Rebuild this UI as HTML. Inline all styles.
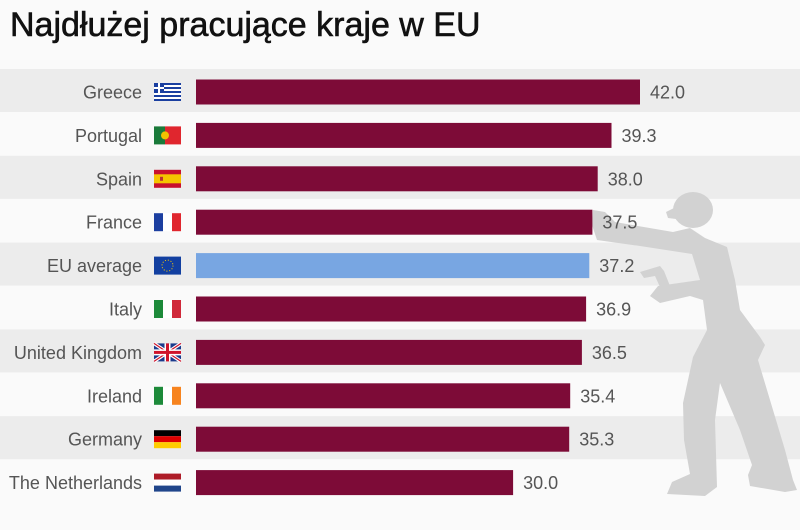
<!DOCTYPE html>
<html><head><meta charset="utf-8"><style>
body{margin:0;width:800px;height:530px;background:#fafafa;overflow:hidden;font-family:"Liberation Sans",sans-serif;position:relative}
.t{position:absolute;left:10px;top:6px;font-size:34px;color:#111;white-space:nowrap;-webkit-text-stroke:0.6px #111}
svg text{font-family:"Liberation Sans",sans-serif;font-size:18px;fill:#555}
</style></head><body>
<svg width="800" height="530" style="position:absolute;left:0;top:0" xmlns="http://www.w3.org/2000/svg" xmlns:xlink="http://www.w3.org/1999/xlink">
<defs>
<g id="gr"><rect width="27" height="18" fill="#1a3fa0"/><rect y="2" width="27" height="2" fill="#fff"/><rect y="6" width="27" height="2" fill="#fff"/><rect y="10" width="27" height="2" fill="#fff"/><rect y="14" width="27" height="2" fill="#fff"/><rect width="10" height="10" fill="#1a3fa0"/><rect x="4" width="2" height="10" fill="#fff"/><rect y="4" width="10" height="2" fill="#fff"/></g>
<g id="pt"><rect width="11" height="18" fill="#1a7a3a"/><rect x="11" width="16" height="18" fill="#e0262e"/><circle cx="11" cy="9" r="4" fill="#f2c200"/></g>
<g id="es"><rect width="27" height="18" fill="#c8102e"/><rect y="4.5" width="27" height="9" fill="#f5c400"/><rect x="6" y="7" width="3" height="4" fill="#b33"/></g>
<g id="fr"><rect width="9" height="18" fill="#1c3fa0"/><rect x="9" width="9" height="18" fill="#fff"/><rect x="18" width="9" height="18" fill="#e0262e"/></g>
<g id="it"><rect width="9" height="18" fill="#1d8a3a"/><rect x="9" width="9" height="18" fill="#fff"/><rect x="18" width="9" height="18" fill="#d0293a"/></g>
<g id="ie"><rect width="9" height="18" fill="#1d8a3a"/><rect x="9" width="9" height="18" fill="#fff"/><rect x="18" width="9" height="18" fill="#f7841f"/></g>
<g id="de"><rect width="27" height="6" fill="#000"/><rect y="6" width="27" height="6" fill="#dd0000"/><rect y="12" width="27" height="6" fill="#ffcc00"/></g>
<g id="nl"><rect width="27" height="6" fill="#ae1c28"/><rect y="6" width="27" height="6" fill="#fff"/><rect y="12" width="27" height="6" fill="#21468b"/></g>
<g id="eu"><rect width="27" height="18" fill="#123fa0"/><circle cx="13.5" cy="9" r="5.5" fill="none" stroke="#ffcc00" stroke-width="1" stroke-dasharray="1 1.9"/></g>
<g id="uk"><rect width="27" height="18" fill="#1a3a8c"/><path d="M0,0 L27,18 M27,0 L0,18" stroke="#fff" stroke-width="3.5"/><path d="M0,0 L27,18 M27,0 L0,18" stroke="#cf142b" stroke-width="1.2"/><rect x="10.5" width="6" height="18" fill="#fff"/><rect y="6" width="27" height="6" fill="#fff"/><rect x="12" width="3" height="18" fill="#cf142b"/><rect y="7.5" width="27" height="3" fill="#cf142b"/></g>
</defs>
<g fill="#ececec">
<rect x="0" y="69" width="800" height="43"/>
<rect x="0" y="155.8" width="800" height="43"/>
<rect x="0" y="242.6" width="800" height="43"/>
<rect x="0" y="329.4" width="800" height="43"/>
<rect x="0" y="416.2" width="800" height="43"/>
</g>
<g fill="#d2d2d2">
<ellipse cx="693" cy="210" rx="20" ry="18"/>
<path d="M666,212 L690,200 L712,212 L700,222 L668,218 Z"/>
<path d="M593,210 L605,212 L615,222 L673,232 L690,228 L705,238 L727,247 L735,280 L740,310 L760,337 L765,345 L758,360 L770,400 L785,450 L793,480 L797,490 L785,492 L750,486 L748,475 L752,465 L740,430 L720,383 L715,420 L717,487 L705,496 L667,494 L672,482 L690,474 L684,440 L683,403 L693,357 L707,330 L703,300 L690,296 L660,303 L650,296 L658,286 L700,280 L692,254 L640,246 L597,240 L592,225 Z"/>
<path d="M640,272 L660,266 L664,271 L674,296 L665,298 L655,276 L644,278 Z"/>
</g>
<g transform="translate(0,92)"><text x="142" y="6.5" text-anchor="end">Greece</text><use xlink:href="#gr" x="154" y="-9"/><rect x="196" y="-12.5" width="444" height="25" fill="#7d0b37"/><text x="650" y="6.5">42.0</text></g>
<g transform="translate(0,135.4)"><text x="142" y="6.5" text-anchor="end">Portugal</text><use xlink:href="#pt" x="154" y="-9"/><rect x="196" y="-12.5" width="415.5" height="25" fill="#7d0b37"/><text x="621.5" y="6.5">39.3</text></g>
<g transform="translate(0,178.8)"><text x="142" y="6.5" text-anchor="end">Spain</text><use xlink:href="#es" x="154" y="-9"/><rect x="196" y="-12.5" width="401.7" height="25" fill="#7d0b37"/><text x="607.7" y="6.5">38.0</text></g>
<g transform="translate(0,222.2)"><text x="142" y="6.5" text-anchor="end">France</text><use xlink:href="#fr" x="154" y="-9"/><rect x="196" y="-12.5" width="396.4" height="25" fill="#7d0b37"/><text x="602.4" y="6.5">37.5</text></g>
<g transform="translate(0,265.6)"><text x="142" y="6.5" text-anchor="end">EU average</text><use xlink:href="#eu" x="154" y="-9"/><rect x="196" y="-12.5" width="393.3" height="25" fill="#78a6e2"/><text x="599.3" y="6.5">37.2</text></g>
<g transform="translate(0,309)"><text x="142" y="6.5" text-anchor="end">Italy</text><use xlink:href="#it" x="154" y="-9"/><rect x="196" y="-12.5" width="390.1" height="25" fill="#7d0b37"/><text x="596.1" y="6.5">36.9</text></g>
<g transform="translate(0,352.4)"><text x="142" y="6.5" text-anchor="end">United Kingdom</text><use xlink:href="#uk" x="154" y="-9"/><rect x="196" y="-12.5" width="385.9" height="25" fill="#7d0b37"/><text x="591.9" y="6.5">36.5</text></g>
<g transform="translate(0,395.8)"><text x="142" y="6.5" text-anchor="end">Ireland</text><use xlink:href="#ie" x="154" y="-9"/><rect x="196" y="-12.5" width="374.2" height="25" fill="#7d0b37"/><text x="580.2" y="6.5">35.4</text></g>
<g transform="translate(0,439.2)"><text x="142" y="6.5" text-anchor="end">Germany</text><use xlink:href="#de" x="154" y="-9"/><rect x="196" y="-12.5" width="373.2" height="25" fill="#7d0b37"/><text x="579.2" y="6.5">35.3</text></g>
<g transform="translate(0,482.6)"><text x="142" y="6.5" text-anchor="end">The Netherlands</text><use xlink:href="#nl" x="154" y="-9"/><rect x="196" y="-12.5" width="317.1" height="25" fill="#7d0b37"/><text x="523.1" y="6.5">30.0</text></g>
</svg>
<div class="t">Najdłużej pracujące kraje w EU</div>
</body></html>
